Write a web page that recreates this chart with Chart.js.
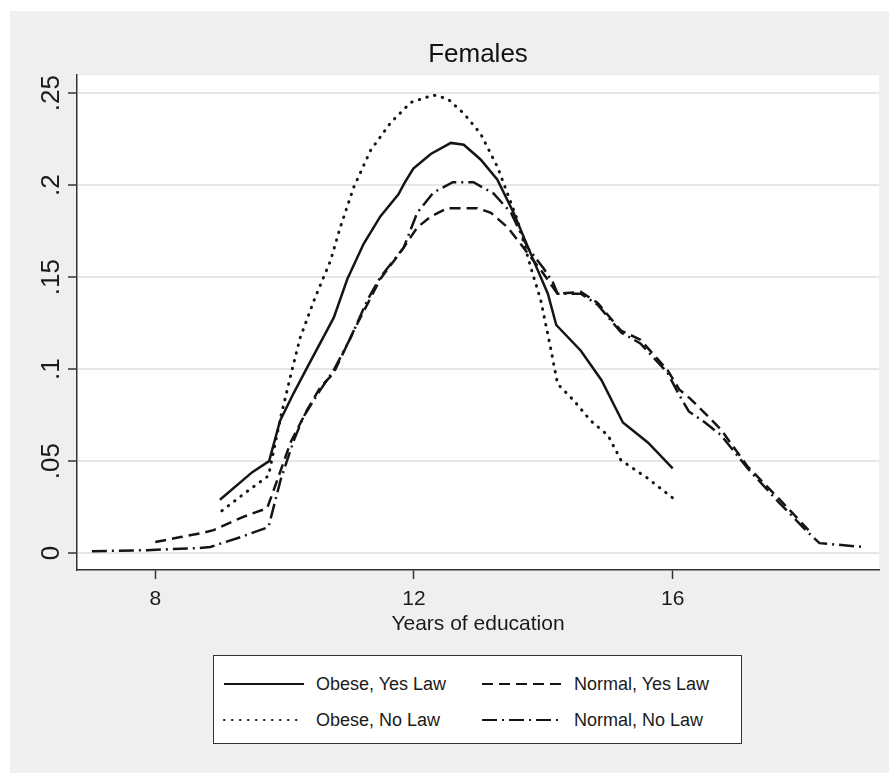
<!DOCTYPE html>
<html>
<head>
<meta charset="utf-8">
<script src="https://cdn.jsdelivr.net/npm/chart.js@4"></script>
<style>
  body { margin: 0; background: #fff; }
  #wrap { position: relative; width: 889px; height: 773px; background: #efefef; }
  #grafik { display: block; }
  #legend {
    position: absolute; left: 213px; top: 655px; width: 527px; height: 87px;
    border: 1.5px solid #333; background: #fff;
    font-family: "Liberation Sans", Arial, sans-serif; font-size: 18px; color: #1a1a1a;
  }
  .item { position: absolute; height: 24px; line-height: 24px; }
  .item svg { position: absolute; left: 0; top: 0; }
  .item span { position: absolute; left: 93px; top: 0; white-space: nowrap; }
</style>
</head>
<body>
<div id="wrap">
  <canvas id="grafik" width="889" height="773"></canvas>
  <div id="legend"></div>
</div>
<script>
const seriesNames = ["Obese, Yes Law", "Obese, No Law", "Normal, Yes Law", "Normal, No Law"];

const obeseYesX = [9.0, 9.5, 9.76, 9.93, 10.14, 10.35, 10.76, 10.97, 11.22, 11.48, 11.76, 11.85, 11.99, 12.26, 12.57, 12.77, 13.03, 13.29, 13.54, 13.85, 14.07, 14.2, 14.58, 14.9, 15.23, 15.62, 16.0];
const obeseYesY = [0.029, 0.044, 0.050, 0.072, 0.087, 0.101, 0.128, 0.149, 0.168, 0.183, 0.195, 0.201, 0.209, 0.217, 0.223, 0.222, 0.214, 0.203, 0.185, 0.159, 0.141, 0.124, 0.110, 0.094, 0.071, 0.060, 0.046];

const obeseNoX = [9.03, 9.4, 9.75, 9.94, 10.09, 10.24, 10.45, 10.71, 10.86, 11.07, 11.33, 11.64, 11.95, 12.3, 12.52, 12.77, 13.03, 13.29, 13.6, 13.8, 13.96, 14.11, 14.22, 14.47, 14.73, 15.0, 15.2, 15.6, 16.0];
const obeseNoY = [0.023, 0.033, 0.042, 0.074, 0.096, 0.117, 0.137, 0.159, 0.177, 0.199, 0.219, 0.234, 0.245, 0.249, 0.247, 0.239, 0.228, 0.210, 0.181, 0.156, 0.1375, 0.112, 0.092, 0.083, 0.072, 0.064, 0.0505, 0.041, 0.030];

const normalYesX = [8.0, 8.39, 8.74, 8.9, 9.36, 9.73, 9.89, 10.09, 10.35, 10.55, 10.76, 11.07, 11.48, 11.82, 12.05, 12.26, 12.52, 12.77, 12.98, 13.19, 13.45, 13.65, 13.76, 14.0, 14.22, 14.58, 14.84, 15.2, 15.5, 15.92, 16.1, 16.27, 16.5, 16.75, 17.16, 17.63, 18.1];
const normalYesY = [0.006, 0.0087, 0.011, 0.0125, 0.0197, 0.0244, 0.040, 0.060, 0.078, 0.090, 0.098, 0.121, 0.149, 0.165, 0.177, 0.183, 0.1875, 0.1875, 0.1875, 0.185, 0.177, 0.168, 0.163, 0.152, 0.141, 0.142, 0.136, 0.121, 0.116, 0.0995, 0.089, 0.084, 0.076, 0.067, 0.047, 0.030, 0.0125];

const normalNoX = [7.02, 7.88, 8.65, 8.85, 9.32, 9.75, 9.94, 10.14, 10.29, 10.55, 10.76, 11.02, 11.28, 11.48, 11.84, 12.05, 12.3, 12.6, 12.92, 13.23, 13.5, 13.76, 14.0, 14.15, 14.22, 14.58, 14.84, 15.2, 15.5, 15.92, 16.1, 16.25, 16.5, 16.75, 17.16, 17.63, 18.1, 18.27, 18.96];
const normalNoY = [0.001, 0.0016, 0.0027, 0.0033, 0.0087, 0.0141, 0.040, 0.061, 0.074, 0.0886, 0.0995, 0.117, 0.1375, 0.150, 0.166, 0.185, 0.196, 0.2016, 0.2016, 0.1955, 0.185, 0.166, 0.155, 0.147, 0.141, 0.141, 0.135, 0.120, 0.114, 0.098, 0.086, 0.077, 0.071, 0.064, 0.046, 0.028, 0.011, 0.0054, 0.0033];

const xTicks = [8, 12, 16];
const yTicks = [0, 0.05, 0.1, 0.15, 0.2, 0.25];

const gaya = [
  { dash: [], cap: "butt" },
  { dash: [0.5, 7.5], cap: "round" },
  { dash: [11, 6], cap: "butt" },
  { dash: [15, 5, 2, 5], cap: "butt" }
];

function gabung(xs, ys) {
  return xs.map((x, i) => ({ x: x, y: ys[i] }));
}

const semuaData = [
  gabung(obeseYesX, obeseYesY),
  gabung(obeseNoX, obeseNoY),
  gabung(normalYesX, normalYesY),
  gabung(normalNoX, normalNoY)
];

const latar = {
  id: "latar",
  beforeDraw(chart) {
    const c = chart.ctx;
    const a = chart.chartArea;
    c.save();
    c.fillStyle = "#ffffff";
    c.fillRect(0, 0, chart.width, chart.height);
    c.fillStyle = "#efefef";
    c.fillRect(10, 11, chart.width - 10, chart.height - 11);
    c.fillStyle = "#ffffff";
    c.fillRect(a.left, a.top, a.right - a.left, a.bottom - a.top);
    c.restore();
  }
};

const huruf = "'Liberation Sans', Arial, sans-serif";

const grafik = new Chart(document.getElementById("grafik").getContext("2d"), {
  type: "line",
  data: {
    datasets: semuaData.map((d, i) => ({
      label: seriesNames[i],
      data: d,
      borderColor: "#151515",
      borderWidth: i === 1 ? 3 : 2.5,
      borderDash: gaya[i].dash,
      borderCapStyle: gaya[i].cap,
      pointRadius: 0,
      fill: false,
      tension: 0
    }))
  },
  options: {
    responsive: false,
    animation: false,
    layout: { padding: { left: 10, right: 10, top: 11, bottom: 0 } },
    plugins: {
      legend: { display: false },
      tooltip: { enabled: false },
      title: {
        display: true,
        text: "Females",
        fullSize: false,
        color: "#111",
        font: { family: huruf, size: 26, weight: "normal" },
        padding: { top: 28, bottom: 5 }
      }
    },
    scales: {
      x: {
        type: "linear",
        min: 6.79,
        max: 19.19,
        afterBuildTicks: (s) => { s.ticks = xTicks.map(v => ({ value: v })); },
        afterFit: (s) => { s.height = 203; },
        grid: { drawOnChartArea: false, drawTicks: true, tickLength: 9, tickColor: "#333", tickWidth: 1.5 },
        border: { color: "#333", width: 1.5 },
        ticks: {
          color: "#1a1a1a",
          padding: 8,
          maxRotation: 0,
          font: { family: huruf, size: 21 }
        },
        title: {
          display: true,
          text: "Years of education",
          color: "#1a1a1a",
          font: { family: huruf, size: 21 },
          padding: { top: 0, bottom: 136 }
        }
      },
      y: {
        type: "linear",
        min: -0.0092,
        max: 0.2598,
        afterBuildTicks: (s) => { s.ticks = yTicks.map(v => ({ value: v })); },
        afterFit: (s) => { s.width = 67; },
        grid: { color: "#e6e6e6", lineWidth: 2, tickLength: 9, tickColor: "#333", tickWidth: 1.5 },
        border: { color: "#333", width: 1.5 },
        ticks: {
          color: "#1a1a1a",
          padding: -2,
          minRotation: 90,
          maxRotation: 90,
          crossAlign: "center",
          font: { family: huruf, size: 26 },
          callback: (v) => v === 0 ? "0" : String(v).replace(/^0/, "")
        }
      }
    }
  },
  plugins: [latar]
});

// legenda manual, dua kolom seperti gambar aslinya
const posisiLegenda = [
  { left: 9, top: 16 },
  { left: 9, top: 52 },
  { left: 267, top: 16 },
  { left: 267, top: 52 }
];
const kotak = document.getElementById("legend");
seriesNames.forEach((nama, i) => {
  const el = document.createElement("div");
  el.className = "item";
  el.style.left = posisiLegenda[i].left + "px";
  el.style.top = posisiLegenda[i].top + "px";
  const dash = gaya[i].dash.length ? gaya[i].dash.join(",") : "none";
  el.innerHTML =
    '<svg width="82" height="24"><line x1="1" y1="12" x2="81" y2="12" stroke="#151515" stroke-width="2" ' +
    'stroke-dasharray="' + dash + '" stroke-linecap="' + gaya[i].cap + '"/></svg>' +
    "<span>" + nama + "</span>";
  kotak.appendChild(el);
});
</script>
</body>
</html>
